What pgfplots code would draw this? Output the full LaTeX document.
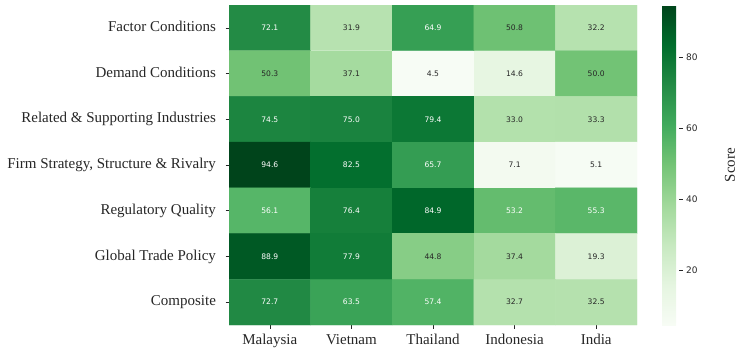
\documentclass[border=0pt]{standalone}
\usepackage{pgfplots}
\pgfplotsset{compat=1.18}
\usepackage{pgfplotstable}
\usepackage{fontspec}
\setmainfont{Liberation Serif}
\newfontfamily\dejavu{DejaVu Sans}
\pgfplotscreatecolormap{greens}{rgb255=(247,252,245) rgb255=(229,245,224) rgb255=(199,233,192) rgb255=(161,217,155) rgb255=(116,196,118) rgb255=(65,171,93) rgb255=(35,139,69) rgb255=(0,109,44) rgb255=(0,68,27)}
\definecolor{darktext}{RGB}{38,38,38}
\pgfplotstableread{
x y v
0 0 72.1
1 0 31.9
2 0 64.9
3 0 50.8
4 0 32.2
0 1 50.3
1 1 37.1
2 1 4.5
3 1 14.6
4 1 50.0
0 2 74.5
1 2 75.0
2 2 79.4
3 2 33.0
4 2 33.3
0 3 94.6
1 3 82.5
2 3 65.7
3 3 7.1
4 3 5.1
0 4 56.1
1 4 76.4
2 4 84.9
3 4 53.2
4 4 55.3
0 5 88.9
1 5 77.9
2 5 44.8
3 5 37.4
4 5 19.3
0 6 72.7
1 6 63.5
2 6 57.4
3 6 32.7
4 6 32.5
}\heat
\pgfplotstableread{
x y lab
0 0 72.1
2 0 64.9
0 2 74.5
1 2 75.0
2 2 79.4
0 3 94.6
1 3 82.5
2 3 65.7
0 4 56.1
1 4 76.4
2 4 84.9
3 4 53.2
4 4 55.3
0 5 88.9
1 5 77.9
0 6 72.7
1 6 63.5
2 6 57.4
}\whitelab
\pgfplotstableread{
x y lab
1 0 31.9
3 0 50.8
4 0 32.2
0 1 50.3
1 1 37.1
2 1 4.5
3 1 14.6
4 1 50.0
3 2 33.0
4 2 33.3
3 3 7.1
4 3 5.1
2 5 44.8
3 5 37.4
4 5 19.3
3 6 32.7
4 6 32.5
}\darklab
\begin{document}
\begin{tikzpicture}[x=1pt,y=1pt]
\path[use as bounding box] (0,0) rectangle (744,354);
\begin{axis}[
  at={(229pt,29pt)}, anchor=south west,
  scale only axis, width=408pt, height=320pt,
  xmin=-0.5, xmax=4.5, ymin=-0.5, ymax=6.5,
  y dir=reverse,
  axis line style={draw=none},
  tick align=outside, major tick length=3.5pt,
  tick style={darktext, line width=0.6pt},
  xtick={0,1,2,3,4}, ytick={0,1,2,3,4,5,6},
  xtick pos=bottom, ytick pos=left,
  xticklabels={Malaysia,Vietnam,Thailand,Indonesia,India},
  yticklabels={Factor Conditions,Demand Conditions,Related \& Supporting Industries,{Firm Strategy, Structure \& Rivalry},Regulatory Quality,Global Trade Policy,Composite},
  typeset ticklabels with strut,
  ticklabel style={font=\fontsize{15}{18}\selectfont, text=darktext},
  yticklabel style={xshift=-6pt},
  colormap name=greens,
  point meta min=4.5, point meta max=94.6,
  colorbar,
  colorbar style={
    at={(1.0613,1)}, anchor=north west,
    width=17pt,
    axis line style={draw=none},
    ytick={20,40,60,80},
    /pgf/number format/assume math mode=true,
    tick align=outside, major tick length=3.5pt,
    tick style={darktext, line width=0.6pt},
    ytick pos=right,
    every tick label/.append style={font=\dejavu\fontsize{9}{11}\selectfont, text=darktext},
    yticklabel style={font=\dejavu\fontsize{9}{11}\selectfont, text=darktext},
    ylabel={Score},
    ylabel style={font=\fontsize{15}{18}\selectfont, text=darktext, at={(axis description cs:4.0,0.5)}, anchor=center},
  },
]
\addplot[matrix plot*, mesh/cols=5, point meta=explicit] table[x=x, y=y, meta=v] {\heat};
\addplot[draw=none, mark=none, point meta=explicit symbolic, nodes near coords, nodes near coords align={center},
  every node near coord/.append style={font=\dejavu\fontsize{7.6}{9}\selectfont, text=white, anchor=center}]
  table[x=x, y=y, meta=lab] {\whitelab};
\addplot[draw=none, mark=none, point meta=explicit symbolic, nodes near coords, nodes near coords align={center},
  every node near coord/.append style={font=\dejavu\fontsize{7.6}{9}\selectfont, text=darktext, anchor=center}]
  table[x=x, y=y, meta=lab] {\darklab};
\end{axis}
\end{tikzpicture}
\end{document}
